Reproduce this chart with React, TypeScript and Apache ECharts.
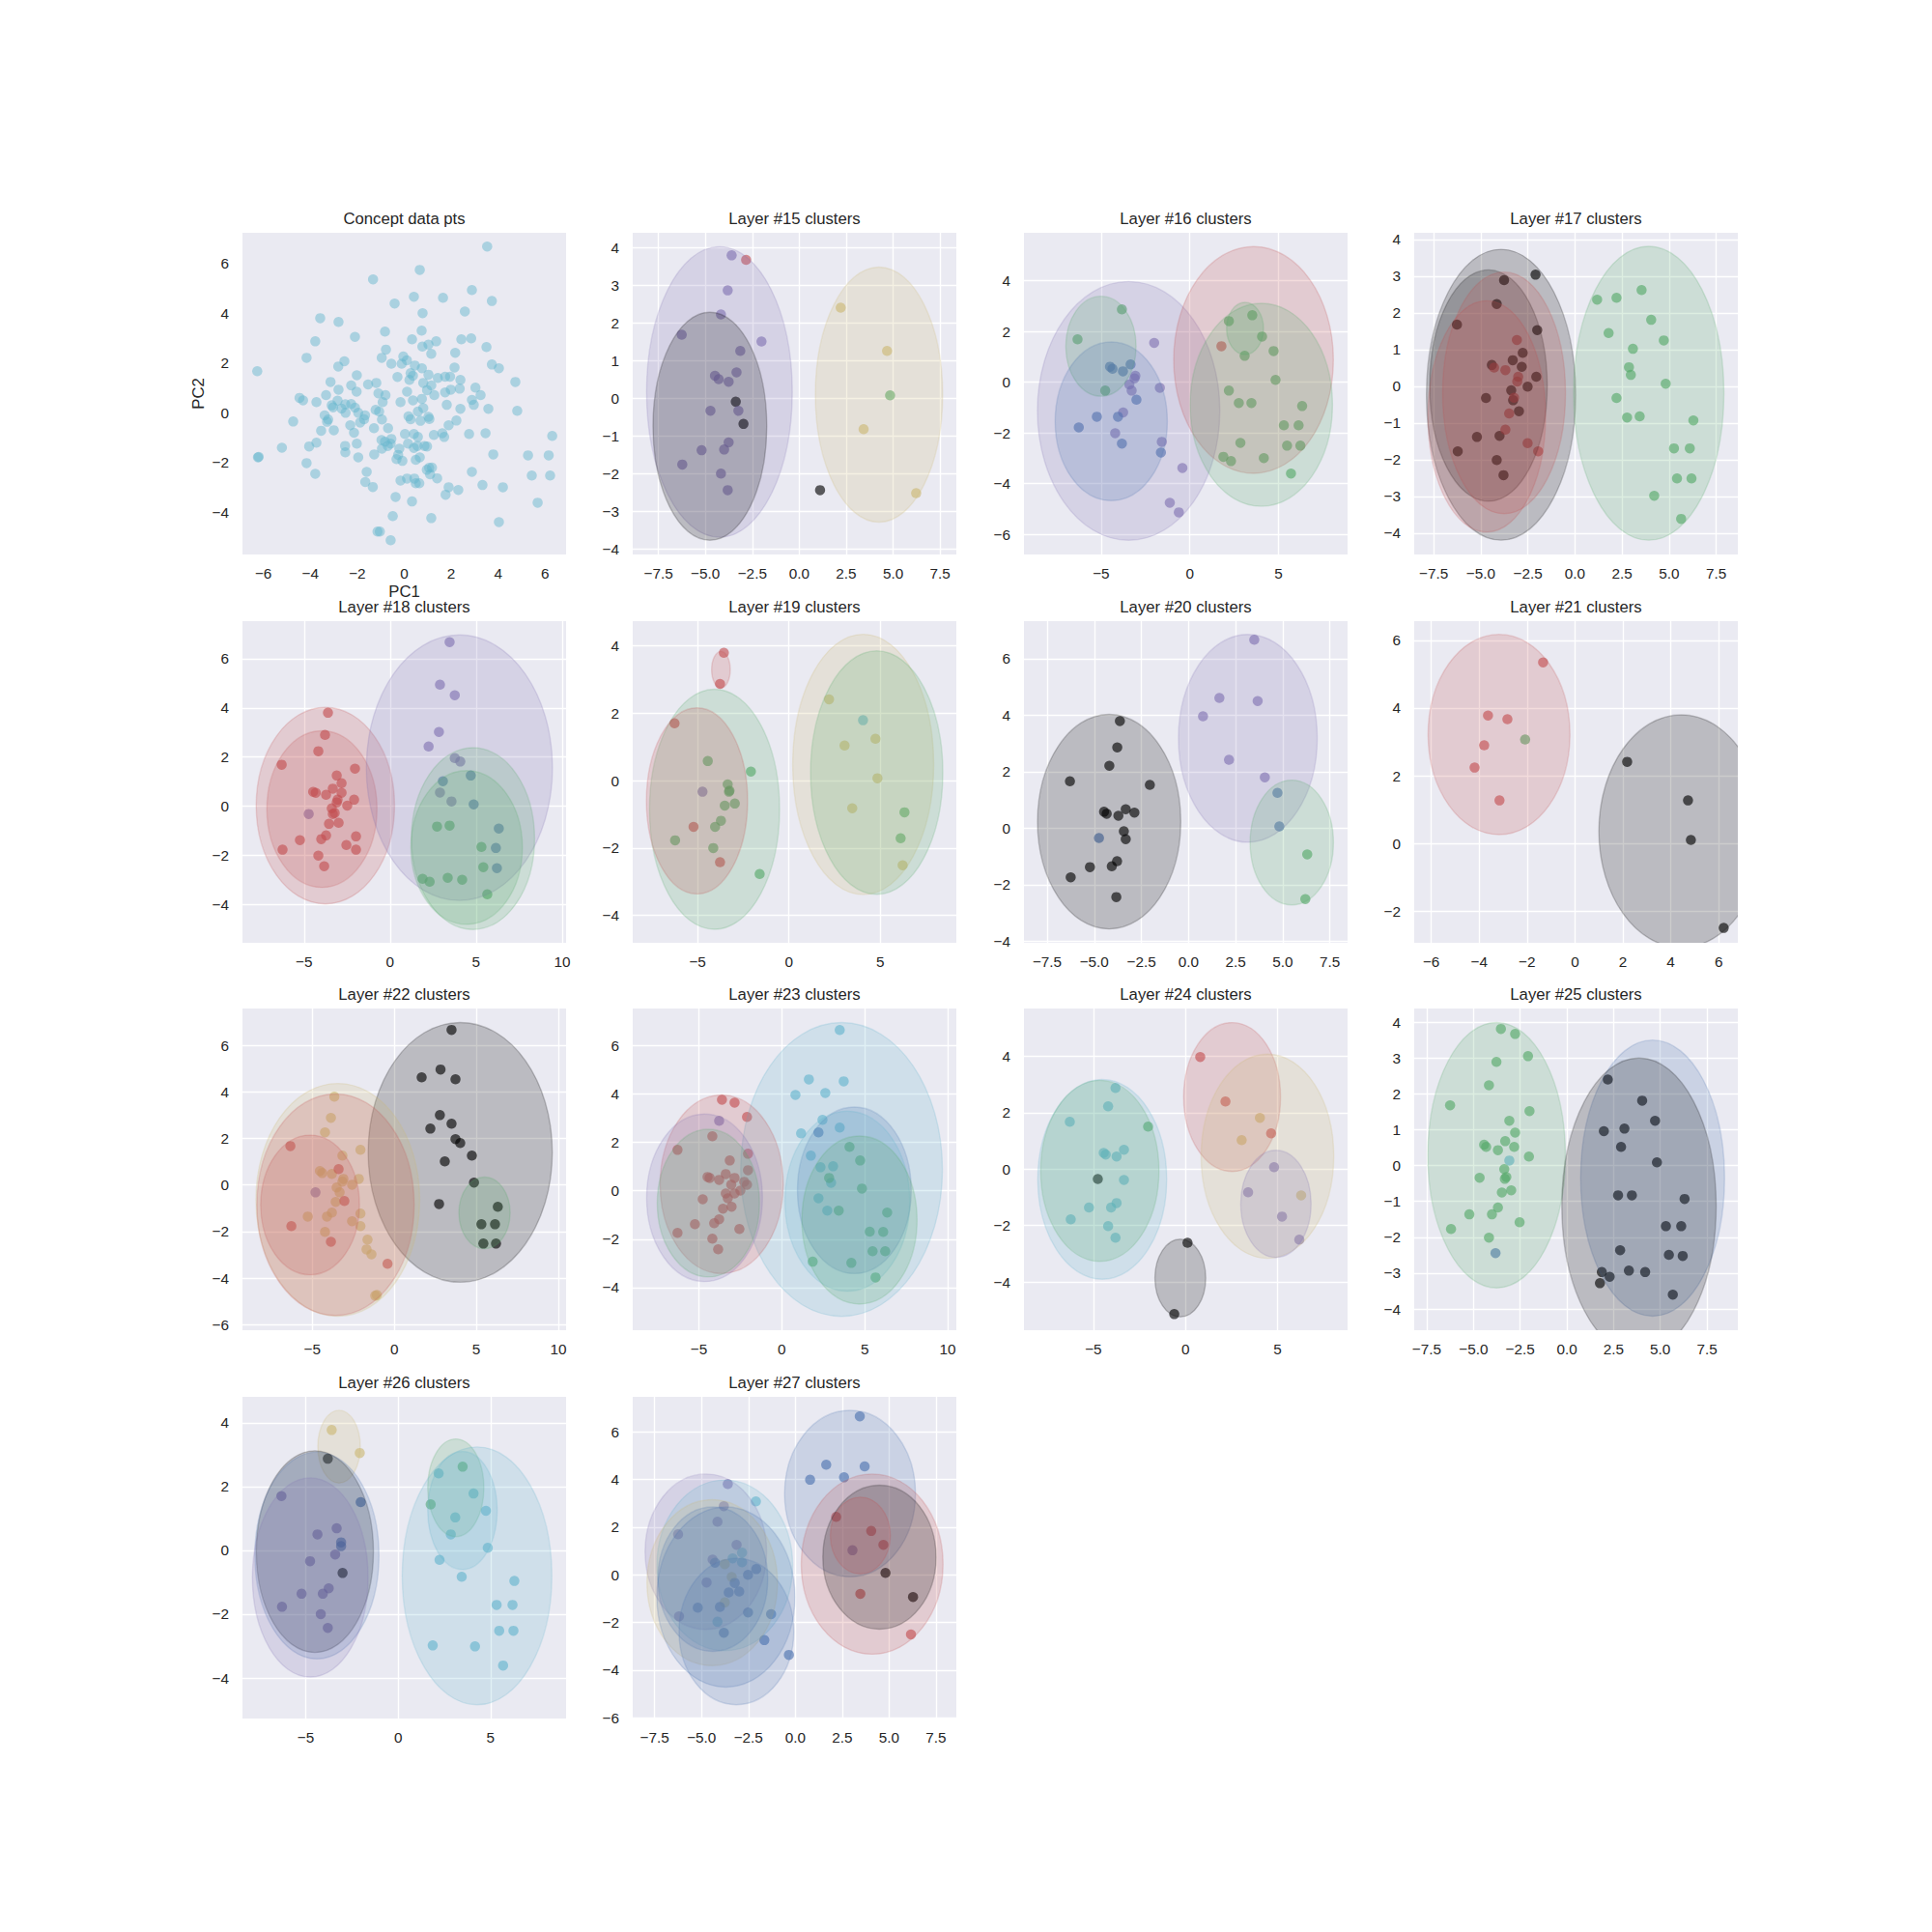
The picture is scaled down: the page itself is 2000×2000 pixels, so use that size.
import React, { useEffect, useRef } from 'react';
import * as echarts from 'echarts';

// seaborn "deep" colour codes
const PALETTE: Record<string, string> = {
  b: '#4C72B0', g: '#55A868', r: '#C44E52', m: '#8172B2', y: '#CCB974', c: '#64B5CD', k: '#000000',
};

// ---------------- data ----------------
const CONCEPT_PTS: number[][] = [
[3.53,6.68],[0.66,5.74],[-1.33,5.36],[2.88,4.93],[3.73,4.49],[0.41,4.66],[1.65,4.62],[-0.41,4.39],[2.58,4.07],[0.78,4.0],
[-3.58,3.80],[-2.80,3.65],[-0.82,3.26],[0.74,3.30],[-3.79,2.87],[-2.10,3.05],[0.33,2.95],[2.43,2.95],[2.85,2.99],[1.03,2.74],
[1.36,2.87],[0.77,2.66],[3.50,2.64],[-0.78,2.54],[1.15,2.37],[2.17,2.41],[-4.16,2.21],[-0.96,2.21],[-0.04,2.26],[0.11,2.11],
[-2.55,2.07],[-2.81,1.86],[-0.55,1.97],[-0.11,1.97],[0.45,1.90],[0.75,1.79],[2.14,1.82],[3.73,1.94],[4.03,1.79],[-6.26,1.67],
[4.73,1.24],[-2.02,1.51],[-0.29,1.44],[0.27,1.59],[0.37,1.49],[1.03,1.53],[1.43,1.40],[1.74,1.45],[1.95,1.45],[2.39,1.32],
[0.22,1.32],[-3.14,1.24],[-2.26,1.10],[-1.54,1.14],[-1.19,1.20],[0.81,1.20],[1.15,1.10],[-2.80,0.93],[-2.03,0.85],[-1.10,0.78],
[-0.80,0.71],[0.12,0.85],[0.97,0.91],[1.74,0.82],[1.98,0.93],[2.36,0.97],[3.03,1.01],[-3.33,0.71],[-4.46,0.60],[-4.31,0.50],
[-3.74,0.43],[-2.84,0.49],[-0.92,0.43],[-0.16,0.43],[0.37,0.50],[0.75,0.56],[1.28,0.71],[2.88,0.52],[2.96,0.32],[3.25,0.71],
[-3.03,0.22],[-3.09,0.30],[-2.67,0.17],[-2.51,0.34],[-2.26,0.35],[-2.10,0.21],[-2.50,0.0],[-1.96,0.0],[-1.67,-0.10],[-1.22,0.12],
[-1.07,0.05],[-3.39,-0.10],[1.81,0.32],[2.39,0.16],[3.58,0.16],[4.81,0.08],[0.58,0.05],[0.81,0.19],[0.18,-0.14],[0.27,-0.26],
[0.69,-0.32],[1.03,-0.16],[1.07,-0.25],[2.22,-0.31],[1.89,-0.50],[-4.73,-0.35],[-3.29,-0.36],[-3.24,-0.27],[-1.88,-0.39],[-1.71,-0.26],
[-0.95,-0.27],[-2.30,-0.50],[-3.54,-0.72],[-3.00,-0.70],[-1.29,-0.62],[-0.69,-0.62],[-2.14,-0.80],[0.03,-0.85],[0.41,-0.85],[0.58,-0.97],
[1.26,-0.89],[1.62,-0.82],[1.70,-0.97],[2.76,-0.85],[3.46,-0.82],[6.30,-0.93],[-3.74,-1.20],[-0.97,-1.09],[-0.82,-1.16],[-0.58,-1.24],
[-0.70,-1.33],[-0.55,-1.05],[0.16,-1.24],[0.56,-1.33],[0.41,-1.41],[0.86,-1.33],[0.97,-1.35],[-2.02,-1.24],[-2.52,-1.33],[-4.05,-1.35],
[-5.21,-1.40],[-0.95,-1.44],[-0.21,-1.44],[-2.51,-1.59],[-6.23,-1.79],[-6.20,-1.77],[-1.96,-1.79],[-1.28,-1.67],[-0.26,-1.69],[0.66,-1.79],
[-0.33,-1.86],[-0.08,-1.93],[0.49,-1.89],[3.79,-1.67],[5.27,-1.71],[6.15,-1.71],[-4.16,-2.02],[1.06,-2.21],[1.18,-2.20],[0.96,-2.29],
[1.10,-2.47],[-1.60,-2.37],[-3.79,-2.45],[2.88,-2.37],[5.43,-2.52],[6.21,-2.52],[1.40,-2.63],[-1.66,-2.78],[-1.34,-2.98],[-0.16,-2.72],
[0.12,-2.64],[0.43,-2.64],[0.49,-2.83],[0.64,-2.83],[1.89,-2.99],[1.76,-3.29],[2.30,-3.10],[3.33,-2.90],[4.20,-2.99],[-0.37,-3.38],
[0.33,-3.56],[5.68,-3.61],[-0.49,-4.15],[1.15,-4.23],[4.03,-4.39],[-1.14,-4.77],[-1.04,-4.77],[-0.58,-5.12],
];

type P = [number, number, string];
type E = [number, number, number, number, string];

const L15_PTS: P[] = [
[-3.60,3.80,'m'],[-2.83,3.68,'r'],[-3.81,2.87,'m'],[-4.17,2.23,'m'],[-6.26,1.69,'m'],[-2.01,1.51,'m'],[-3.14,1.26,'m'],[-3.34,0.69,'m'],
[-4.49,0.60,'m'],[-4.29,0.51,'m'],[-3.76,0.44,'m'],[-3.38,-0.09,'k'],[-3.24,-0.33,'m'],[-4.73,-0.33,'m'],[-2.97,-0.68,'k'],[-3.76,-1.17,'m'],
[-5.20,-1.38,'m'],[-4.00,-1.36,'m'],[-6.23,-1.76,'m'],[-4.17,-2.00,'m'],[-3.81,-2.44,'m'],[1.11,-2.44,'k'],[2.21,2.41,'y'],[4.68,1.26,'y'],
[4.84,0.08,'g'],[3.43,-0.82,'y'],[6.23,-2.52,'y'],
];
const L15_ELL: E[] = [[-4.25,0.17,3.88,3.86,'m'],[-4.76,-0.74,3.03,3.03,'k'],[4.25,0.10,3.39,3.39,'y']];

const L16_PTS: P[] = [
[-3.83,2.87,'g'],[-6.33,1.69,'g'],[-2.01,1.55,'m'],[1.78,1.42,'r'],
[2.20,2.41,'g'],[3.52,2.64,'g'],[4.07,1.80,'g'],[4.72,1.23,'g'],[3.09,1.04,'g'],[4.83,0.09,'g'],[2.20,-0.33,'g'],[2.76,-0.82,'g'],
[3.47,-0.82,'g'],[6.33,-0.94,'g'],[5.30,-1.70,'g'],[6.13,-1.70,'g'],[2.85,-2.39,'g'],[5.48,-2.50,'g'],[6.23,-2.50,'g'],[1.89,-2.94,'g'],
[2.32,-3.11,'g'],[4.17,-2.99,'g'],[5.70,-3.60,'g'],
[-4.50,0.61,'b'],[-4.36,0.53,'b'],[-3.77,0.43,'b'],[-3.34,0.70,'b'],[-4.77,-0.33,'g'],
[-3.07,0.25,'m'],[-3.12,0.15,'m'],[-3.41,-0.09,'m'],[-3.28,-0.33,'m'],[-3.01,-0.69,'b'],[-1.69,-0.22,'m'],[-3.76,-1.19,'m'],[-5.24,-1.36,'b'],
[-4.05,-1.36,'b'],[-6.26,-1.78,'b'],[-4.21,-2.01,'m'],[-3.83,-2.42,'b'],[-1.58,-2.35,'m'],[-1.63,-2.77,'b'],[-0.42,-3.38,'m'],[-1.13,-4.75,'m'],
[-0.62,-5.13,'m'],
];
const L16_ELL: E[] = [[-3.45,-1.13,5.14,5.10,'m'],[-5.01,1.42,1.98,1.97,'g'],[-4.43,-1.54,3.16,3.13,'b'],[3.59,0.88,4.50,4.47,'r'],[4.03,-0.89,4.01,4.00,'g'],[3.11,2.12,1.04,1.03,'g']];

const L17_PTS: P[] = [
[-2.09,3.04,'k'],[-3.76,2.89,'k'],[-4.15,2.24,'k'],[-6.26,1.68,'k'],[-2.00,1.53,'k'],[-2.77,0.91,'k'],[-3.30,0.71,'k'],[-4.41,0.58,'k'],
[-2.82,0.53,'k'],[-2.05,0.26,'k'],[-2.51,-0.01,'k'],[-3.38,-0.11,'k'],[-4.72,-0.32,'k'],[-3.28,-0.38,'k'],[-2.97,-0.68,'k'],[-5.20,-1.38,'k'],
[-4.00,-1.35,'k'],[-6.22,-1.77,'k'],[-4.15,-2.01,'k'],[-3.79,-2.42,'k'],
[-3.08,1.26,'r'],[-4.29,0.51,'r'],[-3.69,0.44,'r'],[-3.01,0.26,'r'],[-3.06,0.13,'r'],[-3.23,-0.31,'r'],[-3.49,-0.74,'r'],[-3.69,-1.18,'r'],
[-2.51,-1.55,'r'],[-1.95,-1.77,'r'],
[1.18,2.36,'g'],[2.21,2.41,'g'],[3.54,2.62,'g'],[4.05,1.81,'g'],[1.79,1.45,'g'],[4.72,1.25,'g'],[3.08,1.02,'g'],[2.87,0.52,'g'],
[2.97,0.31,'g'],[4.82,0.07,'g'],[2.21,-0.32,'g'],[2.77,-0.85,'g'],[3.44,-0.82,'g'],[6.29,-0.93,'g'],[5.26,-1.69,'g'],[6.10,-1.69,'g'],
[5.42,-2.51,'g'],[6.19,-2.51,'g'],[4.21,-2.98,'g'],[5.64,-3.61,'g'],
];
const L17_ELL: E[] = [[-3.92,-0.23,3.96,3.96,'k'],[-4.59,0.02,3.12,3.15,'k'],[-3.76,-0.18,3.26,3.29,'r'],[-4.68,-0.82,3.12,3.15,'r'],[3.92,-0.19,3.99,4.00,'g']];

const L18_PTS: P[] = [
[3.46,6.67,'m'],[2.90,4.94,'m'],[3.76,4.51,'m'],[2.84,3.02,'m'],[2.24,2.43,'m'],[3.76,1.96,'m'],[4.08,1.82,'m'],
[4.69,1.25,'b'],[3.07,1.02,'b'],[2.90,0.56,'m'],[3.57,0.20,'m'],[4.86,0.08,'b'],[6.32,-0.90,'b'],[6.15,-1.69,'b'],[6.21,-2.51,'b'],
[-3.61,3.80,'r'],[-3.78,2.90,'r'],[-4.17,2.24,'r'],[-6.30,1.69,'r'],[-2.04,1.53,'r'],[-3.10,1.25,'r'],[-2.82,0.94,'r'],[-3.33,0.72,'r'],
[-4.47,0.59,'r'],[-4.32,0.55,'r'],[-3.72,0.47,'r'],[-2.82,0.55,'r'],[-3.05,0.27,'r'],[-3.10,0.16,'r'],[-2.09,0.27,'r'],[-2.49,0.03,'r'],
[-3.39,-0.08,'r'],[-3.22,-0.27,'r'],[-3.33,-0.31,'r'],[-3.55,-0.71,'r'],[-2.99,-0.67,'r'],[-3.72,-1.18,'r'],[-5.24,-1.37,'r'],[-4.00,-1.33,'r'],
[-1.98,-1.22,'r'],[-2.54,-1.57,'r'],[-1.98,-1.76,'r'],[-6.25,-1.76,'r'],[-4.17,-2.00,'r'],[-3.83,-2.43,'r'],[-4.73,-0.31,'m'],
[2.73,-0.82,'g'],[3.46,-0.78,'g'],[5.31,-1.65,'g'],[5.42,-2.47,'g'],[1.89,-2.94,'g'],[2.30,-3.06,'g'],[3.35,-2.90,'g'],[4.19,-2.98,'g'],[5.65,-3.57,'g'],
];
const L18_ELL: E[] = [[-3.76,0.03,4.02,3.99,'r'],[-3.96,-0.11,3.20,3.18,'r'],[4.03,1.57,5.41,5.39,'m'],[4.82,-1.31,3.58,3.69,'g'],[4.45,-1.67,3.24,3.12,'g']];

const L19_PTS: P[] = [
[-3.56,3.79,'r'],[-3.77,2.87,'r'],[-6.26,1.70,'r'],[-5.22,-1.37,'r'],[-3.77,-2.42,'r'],[-4.73,-0.33,'m'],
[-4.44,0.58,'g'],[-2.08,0.27,'g'],[-3.35,-0.11,'g'],[-3.28,-0.33,'g'],[-3.25,-0.30,'g'],[-3.51,-0.74,'g'],[-2.96,-0.68,'g'],[-3.72,-1.19,'g'],
[-4.04,-1.37,'g'],[-6.23,-1.77,'g'],[-4.14,-2.00,'g'],[-1.60,-2.77,'g'],[6.33,-0.94,'g'],[6.12,-1.71,'g'],
[2.20,2.41,'y'],[3.05,1.04,'y'],[4.74,1.24,'y'],[4.85,0.07,'y'],[3.47,-0.82,'y'],[6.23,-2.51,'y'],[4.06,1.79,'c'],
];
const L19_ELL: E[] = [[-3.72,3.29,0.51,0.54,'r'],[-4.07,-0.85,3.56,3.56,'g'],[-5.03,-0.60,2.77,2.76,'r'],[4.07,0.48,3.86,3.86,'y'],[4.81,0.24,3.62,3.61,'g']];

const L20_PTS: P[] = [
[3.49,6.67,'m'],[1.64,4.61,'m'],[3.67,4.50,'m'],[0.77,3.96,'m'],[2.15,2.42,'m'],[4.05,1.80,'m'],
[4.72,1.25,'b'],[4.82,0.06,'b'],[-4.75,-0.35,'b'],[6.30,-0.93,'g'],[6.20,-2.51,'g'],
[-3.64,3.79,'k'],[-3.78,2.86,'k'],[-4.20,2.21,'k'],[-6.29,1.66,'k'],[-2.05,1.53,'k'],[-4.48,0.58,'k'],[-4.34,0.51,'k'],[-3.72,0.44,'k'],
[-3.33,0.67,'k'],[-2.87,0.55,'k'],[-3.43,-0.11,'k'],[-3.33,-0.39,'k'],[-3.79,-1.17,'k'],[-5.23,-1.38,'k'],[-4.07,-1.35,'k'],[-6.25,-1.74,'k'],
[-3.83,-2.44,'k'],
];
const L20_ELL: E[] = [[-4.21,0.23,3.80,3.80,'k'],[3.15,3.18,3.68,3.68,'m'],[5.48,-0.51,2.21,2.21,'g']];

const L21_PTS: P[] = [
[-1.33,5.35,'r'],[-3.63,3.78,'r'],[-2.82,3.67,'r'],[-3.79,2.90,'r'],[-4.19,2.24,'r'],[-3.15,1.27,'r'],[-2.08,3.07,'g'],
[2.18,2.41,'k'],[4.72,1.27,'k'],[4.84,0.10,'k'],[6.21,-2.50,'k'],
];
const L21_ELL: E[] = [[-3.17,3.22,2.96,2.96,'r'],[4.44,0.36,3.44,3.44,'k']];

const L22_PTS: P[] = [
[3.49,6.66,'k'],[2.82,4.96,'k'],[1.67,4.62,'k'],[3.73,4.54,'k'],[2.78,3.00,'k'],[3.49,2.63,'k'],[2.20,2.42,'k'],[3.73,1.97,'k'],
[4.02,1.80,'k'],[4.73,1.26,'k'],[3.08,1.01,'k'],[2.73,-0.82,'k'],[4.86,0.10,'k'],[6.31,-0.94,'k'],[5.31,-1.69,'k'],[6.14,-1.69,'k'],
[5.43,-2.52,'k'],[6.20,-2.52,'k'],
[-3.65,3.79,'y'],[-3.86,2.88,'y'],[-4.22,2.26,'y'],[-2.06,1.51,'y'],[-3.16,1.26,'y'],[-4.53,0.60,'y'],[-4.39,0.51,'y'],[-3.80,0.47,'y'],
[-3.10,0.26,'y'],[-3.16,0.14,'y'],[-2.16,0.26,'y'],[-2.57,0.01,'y'],[-3.51,-0.11,'y'],[-3.33,-0.32,'y'],[-3.57,-0.73,'y'],[-3.80,-1.19,'y'],
[-4.10,-1.36,'y'],[-5.27,-1.36,'y'],[-2.06,-1.23,'y'],[-2.57,-1.56,'y'],[-2.06,-1.77,'y'],[-4.22,-2.02,'y'],[-1.63,-2.35,'y'],[-1.69,-2.77,'y'],
[-1.39,-2.98,'y'],[-1.16,-4.76,'y'],[-1.06,-4.73,'y'],
[-6.33,1.67,'r'],[-3.39,0.68,'r'],[-3.04,-0.69,'r'],[-6.27,-1.77,'r'],[-3.86,-2.44,'r'],[-0.41,-3.39,'r'],[-4.80,-0.32,'m'],
];
const L22_ELL: E[] = [[4.02,1.40,5.61,5.58,'k'],[5.50,-1.20,1.56,1.54,'g'],[-3.44,-0.64,4.99,5.00,'y'],[-3.58,-0.85,4.79,4.76,'r'],[-5.13,-0.86,3.01,3.00,'r']];

const L23_PTS: P[] = [
[3.49,6.64,'c'],[1.63,4.60,'c'],[3.73,4.52,'c'],[2.62,4.04,'c'],[0.82,3.96,'c'],[2.45,2.93,'c'],[3.49,2.61,'c'],[1.16,2.37,'c'],
[1.75,1.45,'c'],[2.33,0.97,'c'],[3.09,1.01,'c'],[2.97,0.33,'c'],[2.21,-0.31,'c'],[2.74,-0.82,'c'],[2.21,2.41,'b'],
[4.08,1.81,'g'],[4.72,1.25,'g'],[2.85,0.53,'g'],[4.83,0.09,'g'],[3.43,-0.82,'g'],[6.35,-0.90,'g'],[5.30,-1.69,'g'],[6.11,-1.70,'g'],
[5.47,-2.50,'g'],[6.23,-2.50,'g'],[1.86,-2.93,'g'],[4.19,-2.98,'g'],[5.65,-3.58,'g'],
[-3.61,3.76,'r'],[-2.85,3.64,'r'],[-2.10,3.05,'r'],[-4.19,2.25,'r'],[-6.29,1.69,'r'],[-2.04,1.53,'r'],[-3.14,1.25,'r'],[-2.04,0.85,'r'],
[-3.38,0.69,'r'],[-4.48,0.57,'r'],[-4.35,0.53,'r'],[-3.78,0.45,'r'],[-2.85,0.53,'r'],[-3.05,0.25,'r'],[-2.27,0.37,'r'],[-2.10,0.25,'r'],
[-2.50,0.01,'r'],[-2.85,-0.11,'r'],[-3.38,-0.11,'r'],[-3.26,-0.31,'r'],[-4.77,-0.35,'r'],[-3.55,-0.74,'r'],[-3.03,-0.66,'r'],[-3.78,-1.18,'r'],
[-4.08,-1.34,'r'],[-5.24,-1.38,'r'],[-2.56,-1.58,'r'],[-6.29,-1.74,'r'],[-4.19,-1.98,'r'],[-3.84,-2.42,'r'],[-3.78,2.89,'m'],
];
const L23_ELL: E[] = [[3.60,0.88,6.08,6.07,'c'],[4.37,0.02,3.43,3.44,'b'],[3.95,-0.43,3.76,3.72,'c'],[4.68,-1.21,3.47,3.47,'g'],[-3.63,0.27,3.71,3.69,'r'],[-4.66,-0.29,3.49,3.46,'m'],[-4.43,-0.51,3.08,3.05,'g']];

const L24_PTS: P[] = [
[0.80,3.98,'r'],[2.17,2.40,'r'],[4.65,1.27,'r'],[4.04,1.82,'y'],[3.05,1.03,'y'],[6.28,-0.93,'y'],
[4.81,0.07,'m'],[3.40,-0.82,'m'],[5.24,-1.68,'m'],[6.18,-2.50,'m'],[0.11,-2.61,'k'],[-0.61,-5.14,'k'],[-4.76,-0.35,'k'],[-2.03,1.51,'g'],
[-3.80,2.88,'c'],[-4.20,2.23,'c'],[-6.28,1.68,'c'],[-3.34,0.69,'c'],[-4.44,0.58,'c'],[-4.33,0.52,'c'],[-3.74,0.45,'c'],[-3.34,-0.38,'c'],
[-3.74,-1.20,'c'],[-4.04,-1.36,'c'],[-5.24,-1.36,'c'],[-6.23,-1.78,'c'],[-4.20,-2.02,'c'],[-3.80,-2.43,'c'],
];
const L24_ELL: E[] = [[-4.52,-0.36,3.50,3.54,'c'],[-4.65,-0.06,3.21,3.21,'g'],[2.53,2.56,2.63,2.64,'r'],[4.45,0.46,3.60,3.62,'y'],[4.91,-1.23,1.91,1.90,'m'],[-0.28,-3.86,1.38,1.38,'k']];

const L25_PTS: P[] = [
[-3.53,3.81,'g'],[-2.77,3.67,'g'],[-2.08,3.05,'g'],[-3.77,2.89,'g'],[-4.17,2.24,'g'],[-6.25,1.68,'g'],[-2.00,1.52,'g'],[-3.08,1.25,'g'],
[-2.77,0.92,'g'],[-3.30,0.68,'g'],[-4.43,0.58,'g'],[-4.32,0.52,'g'],[-3.69,0.43,'g'],[-2.82,0.52,'g'],[-2.03,0.25,'g'],[-3.35,-0.10,'g'],
[-3.24,-0.32,'g'],[-3.32,-0.37,'g'],[-4.67,-0.34,'g'],[-2.98,-0.69,'g'],[-3.48,-0.75,'g'],[-3.69,-1.17,'g'],[-4.01,-1.36,'g'],[-5.22,-1.36,'g'],
[-2.53,-1.58,'g'],[-6.20,-1.77,'g'],[-4.17,-2.01,'g'],[-3.08,0.14,'c'],[-3.82,-2.44,'b'],
[2.19,2.40,'k'],[4.03,1.81,'k'],[4.72,1.25,'k'],[1.98,0.96,'k'],[3.08,1.03,'k'],[2.90,0.52,'k'],[4.82,0.09,'k'],[2.74,-0.83,'k'],
[3.48,-0.83,'k'],[6.30,-0.93,'k'],[5.30,-1.69,'k'],[6.12,-1.69,'k'],[5.46,-2.49,'k'],[6.20,-2.52,'k'],[2.85,-2.36,'k'],[1.87,-2.97,'k'],
[2.29,-3.10,'k'],[1.77,-3.28,'k'],[3.32,-2.93,'k'],[4.19,-2.97,'k'],[5.67,-3.60,'k'],
];
const L25_ELL: E[] = [[-3.76,0.29,3.68,3.70,'g'],[4.59,-0.35,3.85,3.85,'b'],[3.86,-1.13,4.13,4.13,'k']];

const L26_PTS: P[] = [
[-3.60,3.77,'y'],[-2.08,3.05,'y'],[-3.81,2.87,'k'],[-3.01,-0.71,'k'],
[-6.32,1.70,'m'],[-4.37,0.50,'m'],[-3.33,0.69,'m'],[-4.77,-0.34,'m'],[-3.41,-0.13,'m'],[-3.76,-1.19,'m'],[-4.08,-1.36,'m'],[-5.23,-1.36,'m'],
[-6.29,-1.77,'m'],[-4.19,-2.00,'m'],[-3.81,-2.43,'m'],[-2.03,1.51,'b'],[-3.09,0.25,'b'],[-3.09,0.13,'b'],
[2.19,2.41,'c'],[4.08,1.78,'c'],[4.75,1.24,'c'],[3.09,1.03,'c'],[2.85,0.50,'c'],[4.85,0.08,'c'],[2.24,-0.30,'c'],[3.44,-0.83,'c'],
[6.29,-0.96,'c'],[5.33,-1.71,'c'],[6.19,-1.71,'c'],[5.47,-2.52,'c'],[6.24,-2.52,'c'],[1.87,-2.98,'c'],[4.16,-3.01,'c'],[5.68,-3.61,'c'],
[3.49,2.62,'g'],[1.76,1.44,'g'],
];
const L26_ELL: E[] = [[-3.20,3.25,1.15,1.14,'y'],[-4.51,-0.04,3.17,3.16,'k'],[-4.40,-0.16,3.36,3.24,'b'],[-4.76,-0.85,3.13,3.12,'m'],[3.12,1.96,1.52,1.53,'g'],[3.48,1.25,1.88,1.85,'c'],[4.27,-0.80,4.05,4.04,'c']];

const L27_PTS: P[] = [
[3.44,6.65,'b'],[1.65,4.62,'b'],[3.70,4.55,'b'],[2.60,4.09,'b'],[0.79,3.99,'b'],
[2.18,2.43,'r'],[4.05,1.84,'r'],[4.70,1.26,'r'],[3.47,-0.80,'r'],[6.17,-2.50,'r'],[3.05,1.03,'m'],[4.81,0.08,'k'],[6.28,-0.93,'k'],
[-3.60,3.81,'m'],[-2.10,3.08,'c'],[-3.81,2.88,'m'],[-4.15,2.23,'m'],[-6.25,1.70,'m'],[-3.13,1.26,'m'],[-2.84,0.93,'c'],[-3.34,0.69,'c'],
[-4.41,0.64,'m'],[-4.28,0.51,'b'],[-3.76,0.45,'y'],[-2.84,0.53,'c'],[-2.08,0.24,'b'],[-2.52,0.00,'b'],[-3.39,-0.09,'y'],[-3.23,-0.34,'b'],
[-4.73,-0.32,'m'],[-3.55,-0.74,'b'],[-2.99,-0.70,'b'],[-3.76,-1.16,'y'],[-4.02,-1.35,'b'],[-5.20,-1.38,'b'],[-2.52,-1.58,'b'],[-1.29,-1.65,'b'],
[-6.20,-1.74,'m'],[-4.15,-1.97,'c'],[-3.81,-2.43,'b'],[-1.65,-2.74,'b'],[-0.34,-3.36,'b'],
];
const L27_ELL: E[] = [[2.92,3.41,3.49,3.49,'b'],[4.10,0.45,3.78,3.78,'r'],[4.49,0.74,3.02,3.02,'k'],[3.47,1.65,1.60,1.61,'r'],[-4.77,0.97,3.24,3.26,'m'],[-3.76,0.40,3.62,3.58,'c'],[-4.43,-0.33,3.48,3.48,'y'],[-3.70,-0.93,3.68,3.78,'b'],[-3.14,-2.38,3.06,3.07,'b'],[-4.40,-0.18,2.93,3.03,'b']];

// titles, axis limits and tick labels for the 14 panels
const TITLES = ['Concept data pts','Layer #15 clusters','Layer #16 clusters','Layer #17 clusters','Layer #18 clusters','Layer #19 clusters','Layer #20 clusters','Layer #21 clusters','Layer #22 clusters','Layer #23 clusters','Layer #24 clusters','Layer #25 clusters','Layer #26 clusters','Layer #27 clusters'];
const X_LIMITS = [[-6.89,6.89],[-8.87,8.37],[-9.35,8.89],[-8.53,8.65],[-8.58,10.23],[-8.55,9.17],[-8.73,8.44],[-6.71,6.80],[-9.25,10.47],[-8.99,10.52],[-8.77,8.80],[-8.17,9.15],[-8.43,9.09],[-8.67,8.59]];
const Y_LIMITS = [[-5.69,7.23],[-4.15,4.40],[-6.79,5.89],[-4.58,4.18],[-5.54,7.52],[-4.81,4.73],[-4.06,7.33],[-2.94,6.57],[-6.24,7.58],[-5.76,7.53],[-5.71,5.70],[-4.59,4.38],[-5.27,4.81],[-6.03,7.47]];
const TICKS_2 = [-6,-4,-2,0,2,4,6];
const TICKS_25 = [-7.5,-5,-2.5,0,2.5,5,7.5];
const TICKS_5 = [-5,0,5];
const TICKS_5_10 = [-5,0,5,10];
const TICKS_1 = [-4,-3,-2,-1,0,1,2,3,4];
const X_TICKS = [TICKS_2,TICKS_25,TICKS_5,TICKS_25,TICKS_5_10,TICKS_5,TICKS_25,TICKS_2,TICKS_5_10,TICKS_5_10,TICKS_5,TICKS_25,TICKS_5,TICKS_25];
const X_DEC = [0,1,0,1,0,0,1,0,0,0,0,1,0,1];
const Y_TICKS = [[-4,-2,0,2,4,6],TICKS_1,[-6,-4,-2,0,2,4],TICKS_1,[-4,-2,0,2,4,6],[-4,-2,0,2,4],[-4,-2,0,2,4,6],[-2,0,2,4,6],[-6,-4,-2,0,2,4,6],[-4,-2,0,2,4,6],[-4,-2,0,2,4],TICKS_1,[-4,-2,0,2,4],[-6,-4,-2,0,2,4,6]];

const LAYER_PTS = [L15_PTS,L16_PTS,L17_PTS,L18_PTS,L19_PTS,L20_PTS,L21_PTS,L22_PTS,L23_PTS,L24_PTS,L25_PTS,L26_PTS,L27_PTS];
const LAYER_ELL = [L15_ELL,L16_ELL,L17_ELL,L18_ELL,L19_ELL,L20_ELL,L21_ELL,L22_ELL,L23_ELL,L24_ELL,L25_ELL,L26_ELL,L27_ELL];

// ---------------- layout ----------------
const LEFTS = [251, 655, 1060, 1464];
const TOPS = [241, 643, 1044, 1446];
const W = 335;
const H = 333;
const FONT = '"Liberation Sans", Arial, sans-serif';
const TEXT = '#262626';
const DOT = 10.5;

function rgba(hex: string, a: number): string {
  const n = parseInt(hex.slice(1), 16);
  return `rgba(${(n >> 16) & 255},${(n >> 8) & 255},${n & 255},${a})`;
}

function fmt(dec: number) {
  return (v: number) => {
    const s = Number(v).toFixed(dec);
    return s.replace('-', '\u2212');
  };
}

function buildOption() {
  const grid: any[] = [];
  const xAxis: any[] = [];
  const yAxis: any[] = [];
  const series: any[] = [];
  const title: any[] = [];

  for (let i = 0; i < 14; i++) {
    const col = i % 4;
    const row = Math.floor(i / 4);
    const showGrid = i > 0;
    grid.push({ left: LEFTS[col], top: TOPS[row], width: W, height: H, show: true, backgroundColor: '#EAEAF2', borderWidth: 0 });
    title.push({
      text: TITLES[i], left: LEFTS[col] + W / 2, top: TOPS[row] - 23.5, textAlign: 'center', padding: 0,
      textStyle: { fontSize: 16.7, fontWeight: 'normal', color: TEXT, fontFamily: FONT, lineHeight: 17 },
    });
    const labelStyle = { fontSize: 15.3, color: TEXT, fontFamily: FONT };
    xAxis.push({
      type: 'value', gridIndex: i, min: X_LIMITS[i][0], max: X_LIMITS[i][1],
      axisLine: { show: false }, axisTick: { show: false, customValues: X_TICKS[i] },
      axisLabel: { ...labelStyle, margin: 12, customValues: X_TICKS[i], formatter: fmt(X_DEC[i]) },
      splitLine: { show: showGrid, lineStyle: { color: '#ffffff', width: 1.4 } },
      ...(i === 0 ? { name: 'PC1', nameLocation: 'middle', nameGap: 30, nameTextStyle: { fontSize: 16.7, color: TEXT, fontFamily: FONT } } : {}),
    });
    yAxis.push({
      type: 'value', gridIndex: i, min: Y_LIMITS[i][0], max: Y_LIMITS[i][1],
      axisLine: { show: false }, axisTick: { show: false, customValues: Y_TICKS[i] },
      axisLabel: { ...labelStyle, margin: 14, customValues: Y_TICKS[i], formatter: fmt(0) },
      splitLine: { show: showGrid, lineStyle: { color: '#ffffff', width: 1.4 } },
      ...(i === 0 ? { name: 'PC2', nameLocation: 'middle', nameGap: 37, nameTextStyle: { fontSize: 16.7, color: TEXT, fontFamily: FONT } } : {}),
    });

    if (i === 0) {
      series.push({
        type: 'scatter', xAxisIndex: 0, yAxisIndex: 0, symbolSize: DOT, silent: true, z: 2,
        itemStyle: { color: rgba(PALETTE.c, 0.6) },
        data: CONCEPT_PTS.map((p) => [p[0], p[1]]),
      });
    } else {
      const pts = LAYER_PTS[i - 1];
      const ells = LAYER_ELL[i - 1];
      series.push({
        type: 'scatter', xAxisIndex: i, yAxisIndex: i, symbolSize: DOT, silent: true, z: 2,
        data: pts.map((p) => ({ value: [p[0], p[1]], itemStyle: { color: rgba(PALETTE[p[2]], 0.78) } })),
      });
      series.push({
        type: 'custom', xAxisIndex: i, yAxisIndex: i, silent: true, z: 3, clip: true,
        encode: { x: 0, y: 1 },
        data: ells.map((e) => [e[0], e[1], e[2], e[3]]),
        renderItem: (params: any, api: any) => {
          const e = ells[params.dataIndex];
          const c = api.coord([e[0], e[1]]);
          const p = api.coord([e[0] + e[2], e[1] + e[3]]);
          const col = PALETTE[e[4]];
          return {
            type: 'ellipse',
            shape: { cx: c[0], cy: c[1], rx: Math.abs(p[0] - c[0]), ry: Math.abs(p[1] - c[1]) },
            style: { fill: rgba(col, 0.2), stroke: rgba(col, 0.2), lineWidth: 1.4 },
          };
        },
      });
    }
  }

  return { animation: false, backgroundColor: '#ffffff', title, grid, xAxis, yAxis, series };
}

export default function App() {
  const ref = useRef<HTMLDivElement>(null);
  useEffect(() => {
    document.body.style.margin = '0';
    if (!ref.current) return;
    const chart = echarts.init(ref.current, null, { renderer: 'svg' });
    chart.setOption(buildOption() as any);
    return () => chart.dispose();
  }, []);
  return <div ref={ref} style={{ position: 'absolute', left: 0, top: 0, width: 2000, height: 2000 }} />;
}
